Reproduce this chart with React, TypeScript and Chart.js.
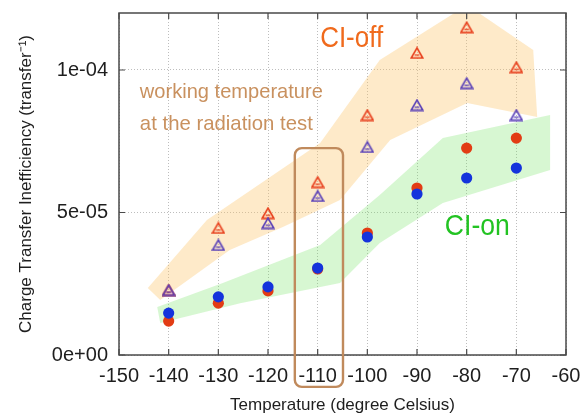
import React, { useEffect, useRef } from 'react';
import { Chart, registerables } from 'chart.js';

Chart.register(...registerables);

// ---------- data ----------
const temperatures = [-140, -130, -120, -110, -100, -90, -80, -70];
const ciOffRed = [2.28e-5, 4.46e-5, 4.98e-5, 6.07e-5, 8.42e-5, 1.06e-4, 1.15e-4, 1.01e-4];
const ciOffBlue = [2.28e-5, 3.86e-5, 4.63e-5, 5.58e-5, 7.3e-5, 8.77e-5, 9.54e-5, 8.42e-5];
const ciOnRed = [1.19e-5, 1.82e-5, 2.25e-5, 3.02e-5, 4.28e-5, 5.86e-5, 7.26e-5, 7.61e-5];
const ciOnBlue = [1.47e-5, 2.04e-5, 2.39e-5, 3.05e-5, 4.14e-5, 5.65e-5, 6.21e-5, 6.56e-5];

// shaded bands (closed outlines)
const ciOffBandX = [-144.2, -132.3, -109.5, -97.5, -79.9, -66.6, -65.8, -79.9, -95.4, -105.5, -117.0, -127.7, -141.7];
const ciOffBandY = [2.35e-5, 4.74e-5, 7.44e-5, 1.035e-4, 1.228e-4, 1.07e-4, 8.35e-5, 8.84e-5, 7.54e-5, 5.44e-5, 4.49e-5, 3.68e-5, 1.93e-5];
const ciOnBandX = [-142.3, -129.1, -109.5, -97.5, -84.8, -63.2, -63.2, -84.8, -97.5, -105.5, -125.6, -141.7];
const ciOnBandY = [1.68e-5, 2.53e-5, 3.86e-5, 5.61e-5, 7.61e-5, 8.42e-5, 6.49e-5, 5.33e-5, 3.93e-5, 2.53e-5, 1.82e-5, 1.12e-5];

const xTicks = [-150, -140, -130, -120, -110, -100, -90, -80, -70, -60];
const yTicks = [0, 5e-5, 1e-4];
const yTickLabels = ['0e+00', '5e-05', '1e-04'];

const xTitle = 'Temperature (degree Celsius)';
const yTitle = 'Charge Transfer Inefficiency (transfer\u207B\u00B9)';
const noteLines = ['working temperature', 'at the radiation test'];
const ciOffLabel = 'CI-off';
const ciOnLabel = 'CI-on';

const FONT = "'Liberation Sans', Arial, Helvetica, sans-serif";

function makeTriangle(color: string): HTMLCanvasElement {
  const c = document.createElement('canvas');
  c.width = 14;
  c.height = 13;
  const g = c.getContext('2d')!;
  g.strokeStyle = color;
  g.lineWidth = 1.6;
  g.lineJoin = 'miter';
  g.beginPath();
  g.moveTo(7, 1.5);
  g.lineTo(12.8, 11.6);
  g.lineTo(1.2, 11.6);
  g.closePath();
  g.stroke();
  g.lineWidth = 1.3;
  g.beginPath();
  g.moveTo(4.6, 8.6);
  g.lineTo(9.4, 8.6);
  g.stroke();
  return c;
}

const pts = (xs: number[], ys: number[]) => xs.map((x, i) => ({ x, y: ys[i] }));

const overlayPlugin = {
  id: 'overlay',
  afterDraw(chart: any) {
    const { ctx, chartArea: a, scales } = chart;
    const xs = scales.x;
    const ys = scales.y;
    const X = (v: number) => xs.getPixelForValue(v);
    const Y = (v: number) => ys.getPixelForValue(v);
    ctx.save();
    // frame
    ctx.strokeStyle = '#4a4a4a';
    ctx.lineWidth = 1.5;
    ctx.strokeRect(a.left, a.top, a.right - a.left, a.bottom - a.top);
    // inward ticks
    ctx.lineWidth = 1.2;
    ctx.beginPath();
    xTicks.forEach((v) => {
      const p = X(v);
      ctx.moveTo(p, a.bottom);
      ctx.lineTo(p, a.bottom - 6);
      ctx.moveTo(p, a.top);
      ctx.lineTo(p, a.top + 6);
    });
    yTicks.forEach((v) => {
      const p = Y(v);
      ctx.moveTo(a.left, p);
      ctx.lineTo(a.left + 6, p);
      ctx.moveTo(a.right, p);
      ctx.lineTo(a.right - 6, p);
    });
    ctx.stroke();

    // notes
    ctx.textBaseline = 'alphabetic';
    ctx.textAlign = 'left';
    ctx.fillStyle = '#c9915f';
    ctx.font = `21px ${FONT}`;
    ctx.fillText(noteLines[0], X(-145.8), Y(9.02e-5), 183);
    ctx.fillText(noteLines[1], X(-145.8), Y(7.9e-5), 173);

    ctx.font = `30px ${FONT}`;
    ctx.fillStyle = '#f06a1c';
    ctx.fillText(ciOffLabel, X(-109.5), Y(1.081e-4), 63);
    ctx.fillStyle = '#22c322';
    ctx.fillText(ciOnLabel, X(-84.4), Y(4.21e-5), 65);

    // rounded box around -110
    const l = X(-114.6), r = X(-104.9), t = Y(7.26e-5), b = Y(-1.12e-5);
    const rad = 7;
    ctx.strokeStyle = '#c08a5c';
    ctx.lineWidth = 2.4;
    ctx.beginPath();
    ctx.moveTo(l + rad, t);
    ctx.arcTo(r, t, r, b, rad);
    ctx.arcTo(r, b, l, b, rad);
    ctx.arcTo(l, b, l, t, rad);
    ctx.arcTo(l, t, r, t, rad);
    ctx.closePath();
    ctx.stroke();
    ctx.restore();
  },
};

export default function App() {
  const ref = useRef<HTMLCanvasElement | null>(null);

  useEffect(() => {
    if (!ref.current) return;
    const redTri = makeTriangle('#e8411e');
    const blueTri = makeTriangle('#5a41b8');
    const pointDs = (label: string, ys: number[], color: string, style: any, radius: number) => ({
      label,
      data: pts(temperatures, ys),
      showLine: false,
      pointStyle: style,
      pointRadius: radius,
      pointBackgroundColor: color,
      pointBorderColor: color,
      pointBorderWidth: 0,
      backgroundColor: color,
      borderColor: color,
    });
    const chart = new Chart(ref.current, {
      type: 'line',
      data: {
        datasets: [
          pointDs('CI-on (blue)', ciOnBlue, '#1433dc', 'circle', 5.6),
          pointDs('CI-on (red)', ciOnRed, '#e23c14', 'circle', 5.6),
          pointDs('CI-off (blue)', ciOffBlue, '#5a41b8', blueTri, 6),
          pointDs('CI-off (red)', ciOffRed, '#e8411e', redTri, 6),
          {
            label: 'CI-on band',
            data: pts(ciOnBandX, ciOnBandY),
            fill: 'shape',
            backgroundColor: 'rgba(110, 228, 95, 0.28)',
            borderColor: 'rgba(0,0,0,0)',
            borderWidth: 0,
            pointRadius: 0,
            tension: 0,
          },
          {
            label: 'CI-off band',
            data: pts(ciOffBandX, ciOffBandY),
            fill: 'shape',
            backgroundColor: 'rgba(252, 196, 105, 0.36)',
            borderColor: 'rgba(0,0,0,0)',
            borderWidth: 0,
            pointRadius: 0,
            tension: 0,
          },
        ] as any,
      },
      options: {
        animation: false,
        responsive: false,
        events: [],
        layout: { padding: { top: 13, right: 15, left: 0, bottom: 0 } },
        plugins: {
          legend: { display: false },
          tooltip: { enabled: false },
        },
        scales: {
          x: {
            type: 'linear',
            min: -150,
            max: -60,
            afterBuildTicks: (s: any) => {
              s.ticks = xTicks.map((v) => ({ value: v }));
            },
            afterFit: (s: any) => {
              s.height = 59;
              s.paddingLeft = 0;
              s.paddingRight = 0;
            },
            ticks: {
              autoSkip: false,
              maxRotation: 0,
              padding: 9,
              color: '#1e1e1e',
              font: { family: FONT, size: 20 },
              callback: (v: any) => String(v),
            },
            grid: { color: '#bdbdbd', lineWidth: 1, drawTicks: false },
            border: { display: false, dash: [1, 2] },
            title: {
              display: true,
              text: xTitle,
              color: '#1e1e1e',
              font: { family: FONT, size: 17, lineHeight: 1 },
              padding: { top: 0, bottom: 0 },
            },
          },
          y: {
            type: 'linear',
            min: 0,
            max: 1.2e-4,
            afterBuildTicks: (s: any) => {
              s.ticks = yTicks.map((v) => ({ value: v }));
            },
            afterFit: (s: any) => {
              s.width = 119;
              s.paddingTop = 0;
              s.paddingBottom = 0;
            },
            ticks: {
              padding: 11,
              color: '#1e1e1e',
              font: { family: FONT, size: 20 },
              callback: (_v: any, i: number) => yTickLabels[i],
            },
            grid: { color: '#bdbdbd', lineWidth: 1, drawTicks: false },
            border: { display: false, dash: [1, 2] },
            title: {
              display: true,
              text: yTitle,
              color: '#1e1e1e',
              font: { family: FONT, size: 17, lineHeight: 1.2 },
              padding: { top: 16, bottom: 0 },
            },
          },
        },
      } as any,
      plugins: [overlayPlugin],
    });
    return () => chart.destroy();
  }, []);

  return (
    <div style={{ position: 'fixed', left: 0, top: 0, width: 581, height: 414, background: '#fff' }}>
      <canvas ref={ref} width={581} height={414} style={{ width: 581, height: 414, display: 'block' }} />
    </div>
  );
}
